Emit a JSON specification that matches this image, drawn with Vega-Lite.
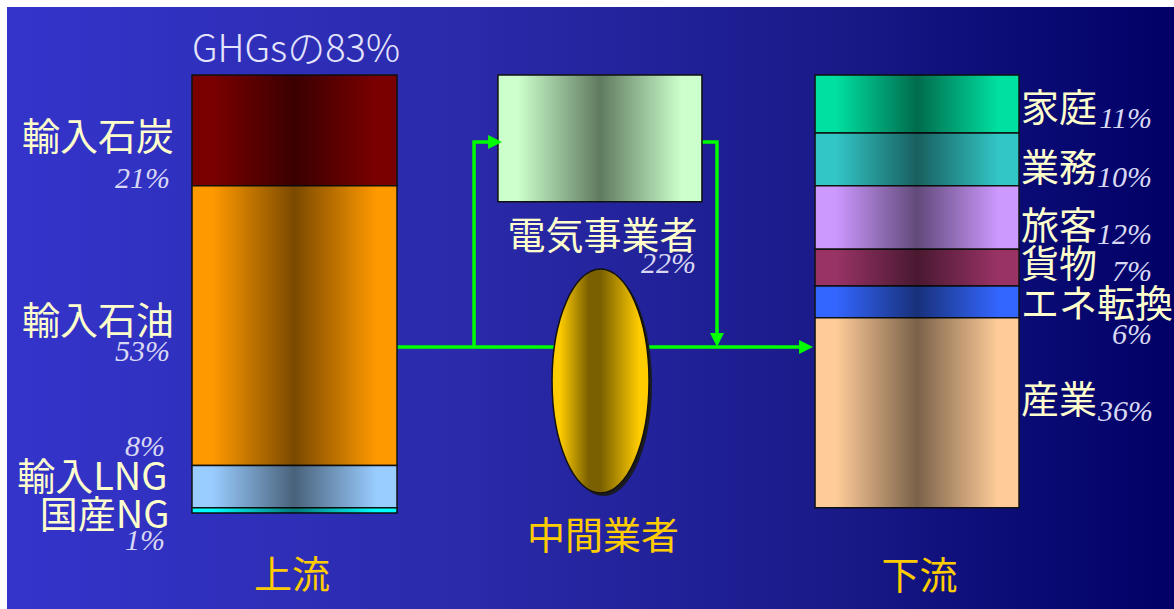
{
  "$schema": "https://vega.github.io/schema/vega-lite/v6.json",
  "width": 1174,
  "height": 609,
  "autosize": {"type": "fit", "contains": "padding"},
  "padding": {"left": 7, "top": 7, "right": 0, "bottom": 0},
  "background": "white",
  "config": {
    "view": {"stroke": "#333333", "strokeWidth": 1},
    "axis": {"disable": true},
    "legend": {"disable": true}
  },
  "datasets": {
    "flows": [
      {"stage": "上流", "item": "輸入石炭", "pct": 21, "order": 1},
      {"stage": "上流", "item": "輸入石油", "pct": 53, "order": 2},
      {"stage": "上流", "item": "輸入LNG", "pct": 8, "order": 3},
      {"stage": "上流", "item": "国産NG", "pct": 1, "order": 4},
      {"stage": "下流", "item": "家庭", "pct": 11, "order": 1},
      {"stage": "下流", "item": "業務", "pct": 10, "order": 2},
      {"stage": "下流", "item": "旅客", "pct": 12, "order": 3},
      {"stage": "下流", "item": "貨物", "pct": 7, "order": 4},
      {"stage": "下流", "item": "エネ転換", "pct": 6, "order": 5},
      {"stage": "下流", "item": "産業", "pct": 36, "order": 6}
    ],
    "nodes": [
      {"node": "電気事業者", "pct": 22},
      {"node": "中間業者"}
    ],
    "paths": [
      {"path": "main", "seq": 1, "x": 33.42, "y": 51.54},
      {"path": "main", "seq": 2, "x": 68.5, "y": 51.54},
      {"path": "up", "seq": 1, "x": 40.02, "y": 51.54},
      {"path": "up", "seq": 2, "x": 40.02, "y": 12.7},
      {"path": "up", "seq": 3, "x": 41.6, "y": 12.7},
      {"path": "down", "seq": 1, "x": 59.55, "y": 12.7},
      {"path": "down", "seq": 2, "x": 60.84, "y": 12.7},
      {"path": "down", "seq": 3, "x": 60.84, "y": 49.5}
    ],
    "arrows": [
      {"dir": "right", "x": 42.42, "y": 12.7},
      {"dir": "right", "x": 69.07, "y": 51.54},
      {"dir": "down", "x": 60.84, "y": 51.54}
    ],
    "labels": [
      {"text": "21%", "x": 13.97, "y": 21.41, "role": "pct"},
      {"text": "53%", "x": 13.97, "y": 54.2, "role": "pct"},
      {"text": "8%", "x": 13.54, "y": 72.2, "role": "pct"},
      {"text": "1%", "x": 13.54, "y": 90.01, "role": "pct"},
      {"text": "22%", "x": 59.04, "y": 37.52, "role": "pct"},
      {"text": "11%", "x": 98.11, "y": 10.04, "role": "pct"},
      {"text": "10%", "x": 98.11, "y": 21.22, "role": "pct"},
      {"text": "12%", "x": 98.11, "y": 32.03, "role": "pct"},
      {"text": "7%", "x": 98.11, "y": 39.04, "role": "pct"},
      {"text": "6%", "x": 98.11, "y": 50.98, "role": "pct"},
      {"text": "36%", "x": 98.2, "y": 65.57, "role": "pct"},
      {"text": "輸入石炭", "x": 14.31, "y": 12.13, "role": "name_right"},
      {"text": "輸入石油", "x": 14.31, "y": 47.0, "role": "name_right"},
      {"text": "輸入LNG", "x": 13.75, "y": 76.56, "role": "name_right"},
      {"text": "国産NG", "x": 13.92, "y": 83.76, "role": "name_right"},
      {"text": "家庭", "x": 86.89, "y": 6.63, "role": "name_left"},
      {"text": "業務", "x": 86.89, "y": 18.0, "role": "name_left"},
      {"text": "旅客", "x": 86.89, "y": 29.0, "role": "name_left"},
      {"text": "貨物", "x": 86.89, "y": 36.2, "role": "name_left"},
      {"text": "エネ転換", "x": 86.89, "y": 43.78, "role": "name_left"},
      {"text": "産業", "x": 86.89, "y": 61.97, "role": "name_left"},
      {"text": "電気事業者", "x": 51.03, "y": 30.89, "role": "name_center"},
      {"text": "上流", "x": 24.42, "y": 95.04, "role": "stage"},
      {"text": "中間業者", "x": 51.07, "y": 87.74, "role": "stage"},
      {"text": "下流", "x": 78.19, "y": 95.32, "role": "stage"},
      {"text": "GHGsの83%", "x": 24.76, "y": -2.46, "role": "title"}
    ]
  },
  "layer": [
    {
      "data": {"values": [{"panel": "背景"}]},
      "mark": {"type": "rect",
        "fill": {"gradient": "linear", "x1": 0, "y1": 0, "x2": 1, "y2": 0, "stops": [
          {"offset": 0, "color": "#3434cc"}, {"offset": 0.4, "color": "#2a2aaa"}, {"offset": 0.7, "color": "#1a1a8a"}, {"offset": 1, "color": "#000066"}]}},
      "encoding": {
        "x": {"datum": 0, "type": "quantitative", "scale": {"domain": [0, 100], "nice": false, "zero": false}},
        "x2": {"datum": 100},
        "y": {"datum": -12.89, "type": "quantitative", "scale": {"domain": [-12.89, 101.19], "nice": false, "zero": false, "reverse": true}},
        "y2": {"datum": 101.19}
      }
    },
    {
      "data": {"name": "flows"},
      "transform": [
        {"filter": "datum.stage == '上流'"},
        {"stack": "pct", "groupby": ["stage"], "sort": [{"field": "order", "order": "ascending"}], "as": ["y0", "y1"]}
      ],
      "mark": {"type": "rect", "fill": "#1a1a22", "xOffset": 4, "yOffset": 4},
      "encoding": {
        "x": {"datum": 15.85, "type": "quantitative", "scale": {"domain": [0, 100], "nice": false, "zero": false}},
        "x2": {"datum": 33.42},
        "y": {"field": "y0", "type": "quantitative", "scale": {"domain": [-12.89, 101.19], "nice": false, "zero": false, "reverse": true}},
        "y2": {"field": "y1"}
      }
    },
    {
      "data": {"name": "flows"},
      "transform": [
        {"filter": "datum.stage == '下流'"},
        {"stack": "pct", "groupby": ["stage"], "sort": [{"field": "order", "order": "ascending"}], "as": ["y0", "y1"]}
      ],
      "mark": {"type": "rect", "fill": "#1a1a22", "xOffset": 4, "yOffset": 4},
      "encoding": {
        "x": {"datum": 69.24, "type": "quantitative", "scale": {"domain": [0, 100], "nice": false, "zero": false}},
        "x2": {"datum": 86.72},
        "y": {"field": "y0", "type": "quantitative", "scale": {"domain": [-12.89, 101.19], "nice": false, "zero": false, "reverse": true}},
        "y2": {"field": "y1"}
      }
    },
    {
      "data": {"name": "nodes"},
      "transform": [{"filter": "datum.node == '電気事業者'"}],
      "mark": {"type": "rect", "fill": "#1a1a22", "xOffset": 4, "yOffset": 4},
      "encoding": {
        "x": {"datum": 42.07, "type": "quantitative", "scale": {"domain": [0, 100], "nice": false, "zero": false}},
        "x2": {"datum": 59.55},
        "y": {"datum": 0, "type": "quantitative", "scale": {"domain": [-12.89, 101.19], "nice": false, "zero": false, "reverse": true}},
        "y2": {"datum": 24.01}
      }
    },
    {
      "data": {"name": "paths"},
      "mark": {"type": "line", "color": "#00ff00", "strokeWidth": 3.5, "strokeCap": "butt"},
      "encoding": {
        "x": {"field": "x", "type": "quantitative", "scale": {"domain": [0, 100], "nice": false, "zero": false}},
        "y": {"field": "y", "type": "quantitative", "scale": {"domain": [-12.89, 101.19], "nice": false, "zero": false, "reverse": true}},
        "detail": {"field": "path", "type": "nominal"},
        "order": {"field": "seq", "type": "quantitative"}
      }
    },
    {
      "data": {"name": "nodes"},
      "transform": [{"filter": "datum.node == '中間業者'"}],
      "mark": {"type": "point", "shape": "M0,-1 A0.433,1 0 1,1 0,1 A0.433,1 0 1,1 0,-1 Z", "size": 50176, "filled": true, "fill": "#1a1a22", "strokeWidth": 0, "opacity": 1, "xOffset": 3, "yOffset": 3},
      "encoding": {
        "x": {"datum": 50.86, "type": "quantitative", "scale": {"domain": [0, 100], "nice": false, "zero": false}},
        "y": {"datum": 57.99, "type": "quantitative", "scale": {"domain": [-12.89, 101.19], "nice": false, "zero": false, "reverse": true}}
      }
    },
    {
      "data": {"name": "flows"},
      "transform": [
        {"filter": "datum.stage == '上流'"},
        {"stack": "pct", "groupby": ["stage"], "sort": [{"field": "order", "order": "ascending"}], "as": ["y0", "y1"]}
      ],
      "mark": {"type": "rect", "stroke": "#111111", "strokeWidth": 1.5},
      "encoding": {
        "x": {"datum": 15.85, "type": "quantitative", "scale": {"domain": [0, 100], "nice": false, "zero": false}},
        "x2": {"datum": 33.42},
        "y": {"field": "y0", "type": "quantitative", "scale": {"domain": [-12.89, 101.19], "nice": false, "zero": false, "reverse": true}},
        "y2": {"field": "y1"},
        "fill": {
          "field": "item", "type": "nominal", "legend": null,
          "scale": {
            "domain": ["輸入石炭", "輸入石油", "輸入LNG", "国産NG", "家庭", "業務", "旅客", "貨物", "エネ転換", "産業"],
            "range": ["#7a0000", "#ff9900", "#99ccff", "#00ffff", "#00e0a0", "#33c6c6", "#cc99ff", "#993366", "#3366ff", "#ffcc99"]
          }
        }
      }
    },
    {
      "data": {"name": "flows"},
      "transform": [
        {"filter": "datum.stage == '下流'"},
        {"stack": "pct", "groupby": ["stage"], "sort": [{"field": "order", "order": "ascending"}], "as": ["y0", "y1"]}
      ],
      "mark": {"type": "rect", "stroke": "#111111", "strokeWidth": 1.5},
      "encoding": {
        "x": {"datum": 69.24, "type": "quantitative", "scale": {"domain": [0, 100], "nice": false, "zero": false}},
        "x2": {"datum": 86.72},
        "y": {"field": "y0", "type": "quantitative", "scale": {"domain": [-12.89, 101.19], "nice": false, "zero": false, "reverse": true}},
        "y2": {"field": "y1"},
        "fill": {
          "field": "item", "type": "nominal", "legend": null,
          "scale": {
            "domain": ["輸入石炭", "輸入石油", "輸入LNG", "国産NG", "家庭", "業務", "旅客", "貨物", "エネ転換", "産業"],
            "range": ["#7a0000", "#ff9900", "#99ccff", "#00ffff", "#00e0a0", "#33c6c6", "#cc99ff", "#993366", "#3366ff", "#ffcc99"]
          }
        }
      }
    },
    {
      "data": {"name": "flows"},
      "transform": [
        {"filter": "datum.stage == '上流'"},
        {"stack": "pct", "groupby": ["stage"], "sort": [{"field": "order", "order": "ascending"}], "as": ["y0", "y1"]}
      ],
      "mark": {"type": "rect", "strokeWidth": 0,
        "fill": {"gradient": "linear", "x1": 0, "y1": 0, "x2": 1, "y2": 0, "stops": [{"offset": 0, "color": "rgba(0,0,0,0)"}, {"offset": 0.1, "color": "rgba(0,0,0,0)"}, {"offset": 0.5, "color": "rgba(0,0,0,0.52)"}, {"offset": 0.9, "color": "rgba(0,0,0,0)"}, {"offset": 1, "color": "rgba(0,0,0,0)"}]}},
      "encoding": {
        "x": {"datum": 15.85, "type": "quantitative", "scale": {"domain": [0, 100], "nice": false, "zero": false}},
        "x2": {"datum": 33.42},
        "y": {"field": "y0", "type": "quantitative", "scale": {"domain": [-12.89, 101.19], "nice": false, "zero": false, "reverse": true}},
        "y2": {"field": "y1"}
      }
    },
    {
      "data": {"name": "flows"},
      "transform": [
        {"filter": "datum.stage == '下流'"},
        {"stack": "pct", "groupby": ["stage"], "sort": [{"field": "order", "order": "ascending"}], "as": ["y0", "y1"]}
      ],
      "mark": {"type": "rect", "strokeWidth": 0,
        "fill": {"gradient": "linear", "x1": 0, "y1": 0, "x2": 1, "y2": 0, "stops": [{"offset": 0, "color": "rgba(0,0,0,0)"}, {"offset": 0.1, "color": "rgba(0,0,0,0)"}, {"offset": 0.5, "color": "rgba(0,0,0,0.52)"}, {"offset": 0.9, "color": "rgba(0,0,0,0)"}, {"offset": 1, "color": "rgba(0,0,0,0)"}]}},
      "encoding": {
        "x": {"datum": 69.24, "type": "quantitative", "scale": {"domain": [0, 100], "nice": false, "zero": false}},
        "x2": {"datum": 86.72},
        "y": {"field": "y0", "type": "quantitative", "scale": {"domain": [-12.89, 101.19], "nice": false, "zero": false, "reverse": true}},
        "y2": {"field": "y1"}
      }
    },
    {
      "data": {"name": "nodes"},
      "transform": [{"filter": "datum.node == '電気事業者'"}],
      "mark": {"type": "rect", "stroke": "#111111", "strokeWidth": 1.5,
        "fill": {"gradient": "linear", "x1": 0, "y1": 0, "x2": 1, "y2": 0, "stops": [{"offset": 0, "color": "#ccffcc"}, {"offset": 0.1, "color": "#ccffcc"}, {"offset": 0.5, "color": "#5f7a5f"}, {"offset": 0.9, "color": "#ccffcc"}, {"offset": 1, "color": "#ccffcc"}]}},
      "encoding": {
        "x": {"datum": 42.07, "type": "quantitative", "scale": {"domain": [0, 100], "nice": false, "zero": false}},
        "x2": {"datum": 59.55},
        "y": {"datum": 0, "type": "quantitative", "scale": {"domain": [-12.89, 101.19], "nice": false, "zero": false, "reverse": true}},
        "y2": {"datum": 24.01}
      }
    },
    {
      "data": {"name": "nodes"},
      "transform": [{"filter": "datum.node == '中間業者'"}],
      "mark": {"type": "point", "shape": "M0,-1 A0.433,1 0 1,1 0,1 A0.433,1 0 1,1 0,-1 Z", "size": 50176, "filled": true, "opacity": 1, "stroke": "#111111", "strokeWidth": 1.5,
        "fill": {"gradient": "linear", "x1": 0, "y1": 0, "x2": 1, "y2": 0, "stops": [{"offset": 0, "color": "#ffcc00"}, {"offset": 0.08, "color": "#ffcc00"}, {"offset": 0.38, "color": "#7a6000"}, {"offset": 0.5, "color": "#7a6000"}, {"offset": 0.9, "color": "#ffcc00"}, {"offset": 1, "color": "#ffcc00"}]}},
      "encoding": {
        "x": {"datum": 50.86, "type": "quantitative", "scale": {"domain": [0, 100], "nice": false, "zero": false}},
        "y": {"datum": 57.99, "type": "quantitative", "scale": {"domain": [-12.89, 101.19], "nice": false, "zero": false, "reverse": true}}
      }
    },
    {
      "data": {"name": "arrows"},
      "mark": {"type": "point", "filled": true, "color": "#00ff00", "opacity": 1, "size": 196, "strokeWidth": 0},
      "encoding": {
        "x": {"field": "x", "type": "quantitative", "scale": {"domain": [0, 100], "nice": false, "zero": false}},
        "y": {"field": "y", "type": "quantitative", "scale": {"domain": [-12.89, 101.19], "nice": false, "zero": false, "reverse": true}},
        "shape": {"field": "dir", "type": "nominal", "legend": null, "scale": {"domain": ["right", "down"], "range": ["M0,0 L-2,-1 L-2,1 Z", "M0,0 L-1,-2 L1,-2 Z"]}}
      }
    },
    {
      "data": {"name": "labels"},
      "transform": [{"filter": "datum.role == 'pct'"}],
      "mark": {"type": "text", "font": "Liberation Serif", "fontStyle": "italic", "fontSize": 30, "color": "#d8d8f4", "align": "right", "baseline": "alphabetic"},
      "encoding": {
        "x": {"field": "x", "type": "quantitative", "scale": {"domain": [0, 100], "nice": false, "zero": false}},
        "y": {"field": "y", "type": "quantitative", "scale": {"domain": [-12.89, 101.19], "nice": false, "zero": false, "reverse": true}},
        "text": {"field": "text"}
      }
    },
    {
      "data": {"name": "labels"},
      "transform": [{"filter": "datum.role == 'name_right'"}],
      "mark": {"type": "text", "font": "Noto Sans CJK JP", "fontSize": 38, "color": "#ffffcc", "align": "right", "baseline": "middle"},
      "encoding": {
        "x": {"field": "x", "type": "quantitative", "scale": {"domain": [0, 100], "nice": false, "zero": false}},
        "y": {"field": "y", "type": "quantitative", "scale": {"domain": [-12.89, 101.19], "nice": false, "zero": false, "reverse": true}},
        "text": {"field": "text"}
      }
    },
    {
      "data": {"name": "labels"},
      "transform": [{"filter": "datum.role == 'name_left'"}],
      "mark": {"type": "text", "font": "Noto Sans CJK JP", "fontSize": 38, "color": "#ffffcc", "align": "left", "baseline": "middle"},
      "encoding": {
        "x": {"field": "x", "type": "quantitative", "scale": {"domain": [0, 100], "nice": false, "zero": false}},
        "y": {"field": "y", "type": "quantitative", "scale": {"domain": [-12.89, 101.19], "nice": false, "zero": false, "reverse": true}},
        "text": {"field": "text"}
      }
    },
    {
      "data": {"name": "labels"},
      "transform": [{"filter": "datum.role == 'name_center'"}],
      "mark": {"type": "text", "font": "Noto Sans CJK JP", "fontSize": 38, "color": "#ffffcc", "align": "center", "baseline": "middle"},
      "encoding": {
        "x": {"field": "x", "type": "quantitative", "scale": {"domain": [0, 100], "nice": false, "zero": false}},
        "y": {"field": "y", "type": "quantitative", "scale": {"domain": [-12.89, 101.19], "nice": false, "zero": false, "reverse": true}},
        "text": {"field": "text"}
      }
    },
    {
      "data": {"name": "labels"},
      "transform": [{"filter": "datum.role == 'stage'"}],
      "mark": {"type": "text", "font": "Noto Sans CJK JP", "fontSize": 38, "color": "#ffcc00", "align": "center", "baseline": "middle"},
      "encoding": {
        "x": {"field": "x", "type": "quantitative", "scale": {"domain": [0, 100], "nice": false, "zero": false}},
        "y": {"field": "y", "type": "quantitative", "scale": {"domain": [-12.89, 101.19], "nice": false, "zero": false, "reverse": true}},
        "text": {"field": "text"}
      }
    },
    {
      "data": {"name": "labels"},
      "transform": [{"filter": "datum.role == 'title'"}],
      "mark": {"type": "text", "font": "Noto Sans CJK JP", "fontSize": 38, "fontWeight": 300, "color": "#e4e4fc", "align": "center", "baseline": "alphabetic"},
      "encoding": {
        "x": {"field": "x", "type": "quantitative", "scale": {"domain": [0, 100], "nice": false, "zero": false}},
        "y": {"field": "y", "type": "quantitative", "scale": {"domain": [-12.89, 101.19], "nice": false, "zero": false, "reverse": true}},
        "text": {"field": "text"}
      }
    }
  ]
}
